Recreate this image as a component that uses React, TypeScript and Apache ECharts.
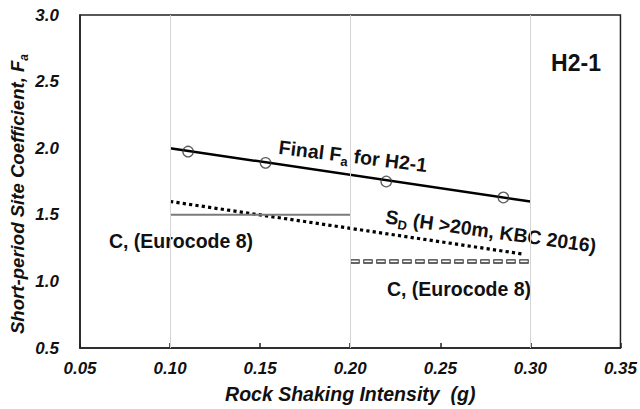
import React, { useEffect, useRef } from "react";
import * as echarts from "echarts";

// ---- data ----
const xTickMin = 0.05;
const xTickMax = 0.35;
const xTickStep = 0.05;
const yTickMin = 0.5;
const yTickMax = 3.0;
const yTickStep = 0.5;
const gridX = [0.1, 0.2, 0.3];

const finalLineX = [0.1, 0.3];
const finalLineY = [2.0, 1.6];
const finalPtsX = [0.11, 0.153, 0.22, 0.285];
const finalPtsY = [1.975, 1.89, 1.75, 1.63];
const sdX = [0.1, 0.296];
const sdY = [1.6, 1.205];
const ec8aX = [0.1, 0.2];
const ec8aY = [1.5, 1.5];
const ec8bX = [0.2, 0.3];
const ec8bY = [1.15, 1.15];

const zip = (xs: number[], ys: number[]) => xs.map((x, i) => [x, ys[i]]);

const FONT = "'Liberation Sans', Arial, sans-serif";
const INK = "#111";

export default function App() {
  const ref = useRef<HTMLDivElement>(null);
  useEffect(() => {
    if (!ref.current) return;
    const chart = echarts.init(ref.current, null, { renderer: "svg" });
    const subStyle = (size: number, italic = false) => ({
      fontSize: size,
      fontWeight: "bold" as const,
      fontStyle: italic ? ("italic" as const) : ("normal" as const),
      fontFamily: FONT,
      fill: INK,
      verticalAlign: "bottom" as const,
      lineHeight: 26,
    });
    const txt = (
      text: string,
      x: number,
      y: number,
      size: number,
      rotDeg = 0,
      italic = false,
      subSize = 13
    ) => ({
      type: "text",
      x,
      y,
      rotation: (rotDeg * Math.PI) / 180,
      silent: true,
      style: {
        text,
        fontSize: size,
        fontWeight: "bold",
        fontStyle: italic ? "italic" : "normal",
        fontFamily: FONT,
        fill: INK,
        align: "center",
        verticalAlign: "middle",
        lineHeight: 26,
        rich: {
          sub: subStyle(subSize, italic),
        },
      },
    });

    chart.setOption({
      animation: false,
      backgroundColor: "#fff",
      grid: {
        left: 80,
        right: 17,
        top: 15,
        bottom: 60,
        show: true,
        borderColor: "#222",
        borderWidth: 1.5,
      },
      xAxis: {
        type: "value",
        min: xTickMin,
        max: xTickMax,
        interval: xTickStep,
        name: "Rock Shaking Intensity  (g)",
        nameLocation: "middle",
        nameGap: 36,
        nameTextStyle: {
          fontSize: 19.5,
          fontWeight: "bold",
          fontStyle: "italic",
          fontFamily: FONT,
          color: INK,
        },
        axisLine: { show: true, lineStyle: { color: "#222", width: 1.5 } },
        axisTick: {
          show: true,
          inside: true,
          length: 5,
          lineStyle: { color: "#222", width: 1.5 },
        },
        axisLabel: {
          margin: 12,
          fontSize: 17,
          fontWeight: "bold",
          fontStyle: "italic",
          fontFamily: FONT,
          color: INK,
          formatter: (v: number) => v.toFixed(2),
        },
        splitLine: { show: false },
      },
      yAxis: {
        type: "value",
        min: yTickMin,
        max: yTickMax,
        interval: yTickStep,
        axisLine: { show: true, lineStyle: { color: "#222", width: 1.5 } },
        axisTick: { show: false },
        axisLabel: {
          margin: 21,
          fontSize: 17,
          fontWeight: "bold",
          fontStyle: "italic",
          fontFamily: FONT,
          color: INK,
          formatter: (v: number) => v.toFixed(1),
        },
        splitLine: { show: false },
      },
      series: [
        {
          type: "line",
          data: [],
          silent: true,
          markLine: {
            silent: true,
            symbol: "none",
            label: { show: false },
            lineStyle: { color: "#d4d4d4", width: 1, type: "solid" },
            data: gridX.map((x) => ({ xAxis: x })),
          },
        },
        {
          name: "Final Fa",
          type: "line",
          data: zip(finalLineX, finalLineY),
          symbol: "none",
          lineStyle: { color: "#000", width: 2.5 },
        },
        {
          name: "Final Fa points",
          type: "scatter",
          data: zip(finalPtsX, finalPtsY),
          symbol: "circle",
          symbolSize: 10.5,
          itemStyle: { color: "rgba(0,0,0,0)", borderColor: "#333", borderWidth: 1.3 },
          z: 4,
        },
        {
          name: "SD",
          type: "line",
          data: zip(sdX, sdY),
          symbol: "none",
          lineStyle: { color: "#000", width: 3.2, type: [3.2, 3.2] },
        },
        {
          name: "EC8 a",
          type: "line",
          data: zip(ec8aX, ec8aY),
          symbol: "none",
          lineStyle: { color: "#7a7a7a", width: 2 },
        },
        {
          name: "EC8 b outer",
          type: "line",
          data: zip(ec8bX, ec8bY),
          symbol: "none",
          lineStyle: { color: "#333", width: 4.5, type: [9.5, 3.5] },
        },
        {
          name: "EC8 b inner",
          type: "line",
          data: zip(ec8bX, ec8bY),
          symbol: "none",
          lineStyle: {
            color: "#fff",
            width: 1.8,
            type: [7.5, 5.5],
            dashOffset: -1,
          },
        },
      ],
      graphic: [
        txt("Short-period Site Coefficient, F{sub|a}", 17, 194, 18.6, 90, true, 12),
        txt("H2-1", 576, 63, 23),
        txt("Final F{sub|a} for H2-1", 353, 156, 19.5, -7),
        txt("S{sub|D} (H >20m, KBC 2016)", 491, 231, 19.5, -8),
        txt("C, (Eurocode 8)", 181, 241, 19.5),
        txt("C, (Eurocode 8)", 459, 289, 19.5),
      ],
    });
    return () => chart.dispose();
  }, []);
  return (
    <div
      ref={ref}
      style={{ position: "absolute", left: 0, top: 0, width: 640, height: 409 }}
    />
  );
}
